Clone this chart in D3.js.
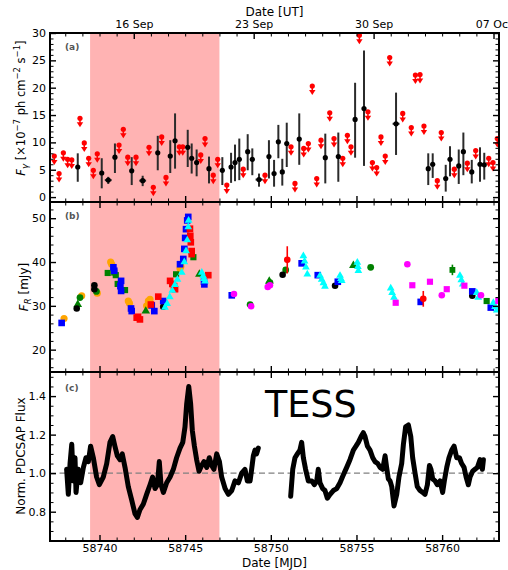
<!DOCTYPE html>
<html>
<head>
<meta charset="utf-8">
<script src="https://cdn.jsdelivr.net/npm/d3@7"></script>
<style>
  body { margin: 0; background: #fff; }
  svg { display: block; font-family: "DejaVu Sans", sans-serif; }
</style>
</head>
<body>
<div id="chart"></div>
<script>
// ---- data ----
const shadeRange = [58739.45, 58747.0];
const xMajor = [58740, 58745, 58750, 58755, 58760];
const dateTicks = [58742, 58749, 58756, 58763];
const dateLabels = ["16 Sep", "23 Sep", "30 Sep", "07 Oct"];

// (a) gamma-ray detections: [mjd, flux, low, high, xerr]
const gammaDet = [
  [58738.73, 5.5, 2.8, 8.0, 0], [58740.13, 4.4, 1.6, 7.1, 0], [58740.51, 3.1, 2.4, 3.7, 0.2],
  [58740.90, 7.3, 4.4, 9.8, 0], [58741.88, 4.8, 2.2, 7.3, 0], [58742.52, 3.0, 2.0, 3.9, 0.2],
  [58743.40, 8.1, 4.9, 11.2, 0], [58744.13, 7.5, 4.4, 10.4, 0], [58744.41, 10.3, 5.2, 15.3, 0],
  [58745.15, 9.1, 5.5, 12.3, 0], [58745.38, 7.1, 4.3, 9.8, 0], [58745.67, 6.3, 3.8, 8.7, 0],
  [58746.39, 5.2, 2.5, 7.4, 0], [58747.17, 4.9, 2.2, 7.3, 0], [58747.68, 5.5, 2.6, 8.1, 0],
  [58747.91, 6.3, 2.9, 9.6, 0], [58748.16, 6.9, 3.1, 10.7, 0], [58748.65, 8.3, 4.9, 11.5, 0],
  [58748.92, 6.9, 4.0, 8.9, 0], [58749.31, 3.2, 1.9, 4.3, 0.2], [58749.89, 7.4, 3.4, 10.4, 0],
  [58750.19, 4.3, 1.9, 6.8, 0], [58750.44, 10.1, 7.1, 13.2, 0], [58750.67, 4.6, 2.1, 7.0, 0],
  [58750.93, 9.8, 5.5, 13.6, 0], [58751.66, 10.6, 5.9, 15.3, 0], [58753.18, 7.2, 2.5, 11.6, 0],
  [58753.94, 7.4, 2.8, 11.8, 0], [58754.92, 14.2, 7.2, 20.9, 0], [58755.44, 16.2, 5.7, 26.8, 0],
  [58757.31, 13.4, 7.7, 19.1, 0.2], [58759.19, 5.2, 2.2, 8.0, 0], [58759.45, 6.0, 3.5, 8.0, 0],
  [58760.21, 3.4, 1.0, 5.9, 0], [58760.46, 6.9, 3.8, 9.3, 0], [58760.97, 5.7, 2.4, 8.7, 0],
  [58761.24, 8.3, 4.0, 11.8, 0], [58761.73, 4.6, 2.5, 6.8, 0], [58762.21, 6.0, 2.8, 9.1, 0],
  [58762.46, 5.9, 3.2, 8.1, 0]
];
// (a) gamma-ray upper limits: [mjd, flux]
const gammaUL = [
  [58737.36, 7.5], [58737.64, 4.3], [58737.89, 8.1], [58738.14, 6.9], [58738.38, 6.8],
  [58738.86, 14.4], [58739.11, 9.9], [58739.37, 7.1], [58739.64, 4.9], [58739.87, 7.9],
  [58741.14, 9.5], [58741.39, 12.4], [58741.65, 7.3], [58742.13, 7.3], [58742.89, 9.1],
  [58743.14, 1.8], [58743.63, 11.0], [58743.88, 3.6], [58744.66, 9.2], [58744.86, 9.2],
  [58745.91, 7.7], [58746.16, 10.7], [58746.64, 4.0], [58746.90, 6.9], [58747.43, 2.2],
  [58748.39, 5.1], [58749.66, 4.0], [58751.18, 9.2], [58751.41, 2.5], [58751.92, 8.9],
  [58752.19, 9.8], [58752.42, 20.3], [58752.68, 3.4], [58752.93, 10.4], [58753.44, 15.4],
  [58753.69, 10.7], [58754.20, 7.1], [58754.47, 11.3], [58754.68, 9.2], [58755.17, 29.6],
  [58755.67, 15.6], [58755.93, 6.3], [58756.18, 5.4], [58756.43, 11.0], [58756.68, 7.5],
  [58756.94, 25.5], [58757.70, 15.3], [58758.20, 12.7], [58758.44, 22.3], [58758.71, 22.4],
  [58758.94, 13.0], [58759.72, 3.0], [58759.95, 11.8], [58760.71, 5.1], [58761.47, 6.2],
  [58761.96, 8.5], [58762.72, 7.1], [58762.97, 6.3], [58763.22, 10.7]
];

// (b) optical R-band flux [mjd, mJy] per telescope
const optOrange = [
  [58737.93, 27.1], [58738.96, 32.3], [58739.87, 32.9], [58740.65, 40.0], [58740.71, 39.5],
  [58741.68, 31.1], [58741.75, 30.6], [58742.75, 30.0], [58742.85, 31.1], [58742.95, 31.5],
  [58744.70, 38.5], [58744.75, 39.0]
];
const optGreenCircle = [
  [58738.86, 31.9], [58739.82, 33.3], [58748.79, 30.3], [58749.95, 35.3], [58750.87, 38.2],
  [58755.83, 38.8]
];
const optGreenSquare = [
  [58740.48, 37.5], [58740.86, 37.6], [58740.95, 37.0], [58741.06, 35.0], [58741.49, 33.6],
  [58744.47, 37.2], [58745.48, 41.1], [58762.60, 31.1]
];
const optGreenTri = [
  [58738.73, 30.3], [58742.70, 28.8], [58745.83, 37.2], [58749.91, 35.6], [58754.82, 39.2]
];
const optGreenErr = [[58760.60, 38.2, 1.2]];
const optBlack = [
  [58738.67, 29.4], [58739.70, 34.7], [58739.70, 33.8], [58743.72, 29.8], [58750.69, 37.1],
  [58753.75, 34.6], [58761.76, 32.3]
];
const optBlue = [
  [58737.79, 26.1], [58740.81, 38.8], [58740.86, 38.0], [58741.22, 34.5], [58741.26, 35.7],
  [58741.26, 33.4], [58741.84, 29.4], [58741.88, 28.8], [58743.05, 30.1], [58743.20, 28.8],
  [58743.72, 31.1], [58744.70, 39.5], [58744.89, 40.7], [58744.95, 43.0], [58745.00, 45.5],
  [58745.05, 47.5], [58745.12, 49.5], [58745.18, 50.3], [58746.10, 35.5], [58746.12, 34.9],
  [58747.72, 32.4], [58751.80, 39.7], [58752.74, 37.0], [58753.91, 35.5], [58758.75, 30.9],
  [58761.76, 33.3], [58762.84, 29.6]
];
const optRed = [
  [58742.17, 27.3], [58742.25, 27.5], [58742.36, 26.9], [58743.00, 30.3], [58743.43, 32.1],
  [58744.12, 35.7], [58744.25, 35.0], [58744.35, 34.5], [58744.41, 33.8], [58745.28, 47.6],
  [58745.30, 46.0], [58745.33, 44.5], [58745.38, 42.5], [58745.38, 41.8], [58746.35, 37.0]
];
const optRedErr = [[58750.96, 40.5, 3.1], [58758.90, 31.6, 1.8]];
const optCyan = [
  [58743.82, 29.6], [58743.95, 30.5], [58744.10, 32.0], [58744.25, 33.5], [58744.40, 34.8],
  [58744.55, 36.0], [58744.80, 37.6], [58744.95, 40.0], [58745.05, 42.5], [58745.12, 45.0],
  [58745.18, 48.0], [58745.20, 49.5], [58745.97, 37.6], [58746.05, 36.8], [58746.10, 36.2],
  [58746.16, 35.6], [58751.90, 41.4], [58751.97, 40.2], [58752.05, 38.8], [58752.13, 37.2],
  [58752.87, 36.9], [58752.97, 36.0], [58753.07, 35.2], [58753.16, 34.4], [58754.04, 36.9],
  [58754.09, 36.2], [58754.14, 35.7], [58755.05, 39.9], [58755.08, 38.9], [58755.11, 38.0],
  [58757.00, 34.0], [58757.08, 33.0], [58757.19, 31.9], [58761.04, 36.9], [58761.12, 35.9],
  [58761.20, 34.9], [58762.02, 33.0], [58762.11, 31.9], [58762.99, 30.7], [58763.09, 29.8],
  [58763.19, 29.0]
];
const optMagentaCircle = [
  [58747.85, 32.7], [58748.85, 29.9], [58749.82, 34.3], [58749.95, 34.7], [58757.97, 39.5],
  [58759.98, 32.4], [58762.27, 32.4]
];
const optMagentaSquare = [
  [58757.29, 30.7], [58758.26, 34.7], [58759.29, 35.5], [58760.27, 33.8], [58761.30, 34.6],
  [58763.28, 31.1]
];

// (c) TESS normalised flux [mjd, flux], two continuous segments
const tessSeg1 = [
  [58738.08, 1.02], [58738.18, 0.89], [58738.28, 1.05], [58738.38, 1.15], [58738.47, 0.96],
  [58738.57, 1.08], [58738.63, 0.90], [58738.76, 1.02], [58738.90, 0.95], [58739.06, 1.03],
  [58739.21, 1.08], [58739.35, 1.06], [58739.48, 1.14], [58739.64, 1.08], [58739.83, 0.98],
  [58739.99, 0.94], [58740.22, 0.98], [58740.42, 1.05], [58740.61, 1.16], [58740.77, 1.19],
  [58740.90, 1.14], [58741.04, 1.09], [58741.20, 1.07], [58741.33, 1.10], [58741.49, 1.03],
  [58741.68, 0.93], [58741.88, 0.86], [58742.07, 0.79], [58742.21, 0.77], [58742.36, 0.81],
  [58742.56, 0.84], [58742.75, 0.89], [58742.95, 0.94], [58743.10, 0.98], [58743.24, 0.92],
  [58743.38, 0.94], [58743.49, 1.06], [58743.59, 0.94], [58743.73, 0.90], [58743.92, 0.95],
  [58744.12, 0.98], [58744.31, 1.02], [58744.50, 1.08], [58744.70, 1.13], [58744.86, 1.16],
  [58744.99, 1.24], [58745.09, 1.36], [58745.21, 1.45], [58745.32, 1.36], [58745.42, 1.22],
  [58745.54, 1.14], [58745.67, 1.07], [58745.81, 1.01], [58745.96, 1.04], [58746.10, 1.06],
  [58746.26, 1.03], [58746.41, 1.08], [58746.55, 1.04], [58746.68, 1.02], [58746.84, 1.10],
  [58747.00, 1.06], [58747.13, 0.98], [58747.33, 0.92], [58747.52, 0.89], [58747.72, 0.91],
  [58747.91, 0.96], [58748.11, 0.95], [58748.30, 1.00], [58748.49, 1.02], [58748.63, 0.96],
  [58748.79, 0.96], [58748.88, 1.02], [58748.98, 1.09], [58749.08, 1.12], [58749.17, 1.10],
  [58749.27, 1.13]
];
const tessSeg2 = [
  [58751.16, 0.88], [58751.28, 1.02], [58751.41, 1.08], [58751.55, 1.10], [58751.70, 1.12],
  [58751.80, 1.16], [58751.90, 1.08], [58752.03, 1.02], [58752.19, 0.96], [58752.39, 0.96],
  [58752.54, 0.94], [58752.68, 0.96], [58752.77, 1.02], [58752.87, 0.95], [58753.03, 0.92],
  [58753.16, 0.91], [58753.30, 0.87], [58753.46, 0.89], [58753.65, 0.91], [58753.85, 0.92],
  [58754.04, 0.95], [58754.23, 0.99], [58754.43, 1.03], [58754.62, 1.07], [58754.82, 1.12],
  [58754.97, 1.14], [58755.11, 1.16], [58755.27, 1.19], [58755.40, 1.21], [58755.50, 1.19],
  [58755.64, 1.14], [58755.79, 1.12], [58755.95, 1.08], [58756.08, 1.06], [58756.24, 1.05],
  [58756.38, 1.03], [58756.53, 1.02], [58756.67, 1.09], [58756.76, 1.03], [58756.86, 0.97],
  [58756.96, 0.96], [58757.06, 0.93], [58757.19, 0.83], [58757.35, 0.89], [58757.48, 0.98],
  [58757.64, 1.05], [58757.74, 1.15], [58757.87, 1.24], [58758.03, 1.25], [58758.17, 1.19],
  [58758.28, 1.08], [58758.42, 1.00], [58758.55, 0.93], [58758.71, 0.91], [58758.87, 0.90],
  [58759.00, 0.89], [58759.14, 0.94], [58759.26, 1.04], [58759.35, 1.02], [58759.45, 0.97],
  [58759.59, 0.96], [58759.72, 0.94], [58759.88, 0.96], [58760.03, 0.90], [58760.13, 0.96],
  [58760.27, 1.03], [58760.40, 1.08], [58760.56, 1.12], [58760.70, 1.14], [58760.85, 1.08],
  [58761.01, 1.08], [58761.14, 1.05], [58761.28, 1.03], [58761.40, 0.98], [58761.53, 0.94],
  [58761.63, 0.98], [58761.78, 1.01], [58761.92, 1.02], [58762.06, 1.03], [58762.21, 1.07],
  [58762.35, 1.02], [58762.41, 1.07]
];

// ---- layout ----
const W = 508, H = 570;
const L = 50, R = 499;
const pA = {top: 33, bot: 202}, pB = {top: 202, bot: 372}, pC = {top: 372, bot: 541};

const svg = d3.select("#chart").append("svg")
    .attr("width", W).attr("height", H);

const x = d3.scaleLinear().domain([58737.11, 58763.32]).range([L, R]);
const ya = d3.scaleLinear().domain([-0.9, 30]).range([pA.bot, pA.top]);
const yb = d3.scaleLinear().domain([14.9, 53.7]).range([pB.bot, pB.top]);
const yc = d3.scaleLinear().domain([0.648, 1.525]).range([pC.bot, pC.top]);

// clip paths per panel
const defs = svg.append("defs");
[["clipA", pA], ["clipB", pB], ["clipC", pC]].forEach(function (c) {
    defs.append("clipPath").attr("id", c[0]).append("rect")
        .attr("x", L).attr("y", c[1].top).attr("width", R - L).attr("height", c[1].bot - c[1].top);
});

// shaded interval across all panels
svg.append("rect")
    .attr("x", x(shadeRange[0])).attr("y", pA.top)
    .attr("width", x(shadeRange[1]) - x(shadeRange[0]))
    .attr("height", pC.bot - pA.top)
    .attr("fill", "#ffb3b3");

// ---- panel (a) ----
const ga = svg.append("g").attr("clip-path", "url(#clipA)");
ga.selectAll(".ul").data(gammaUL).enter().append("g")
    .attr("transform", function (d) { return "translate(" + x(d[0]) + "," + ya(d[1]) + ")"; })
    .each(function () {
        const g = d3.select(this);
        g.append("line").attr("x1", 0).attr("x2", 0).attr("y1", 0).attr("y2", 5)
            .attr("stroke", "red").attr("stroke-width", 1.5);
        g.append("path").attr("d", "M-3.2,4 L3.2,4 L0,9 Z").attr("fill", "red");
        g.append("circle").attr("r", 2.6).attr("fill", "red");
    });

ga.selectAll(".ev").data(gammaDet).enter().append("line")
    .attr("x1", function (d) { return x(d[0]); })
    .attr("x2", function (d) { return x(d[0]); })
    .attr("y1", function (d) { return ya(d[2]); })
    .attr("y2", function (d) { return ya(d[3]); })
    .attr("stroke", "#2b2b2b").attr("stroke-width", 2);
ga.selectAll(".eh").data(gammaDet.filter(function (d) { return d[4] > 0; })).enter().append("line")
    .attr("x1", function (d) { return x(d[0] - d[4]); })
    .attr("x2", function (d) { return x(d[0] + d[4]); })
    .attr("y1", function (d) { return ya(d[1]); })
    .attr("y2", function (d) { return ya(d[1]); })
    .attr("stroke", "#2b2b2b").attr("stroke-width", 2);
ga.selectAll(".dt").data(gammaDet).enter().append("circle")
    .attr("cx", function (d) { return x(d[0]); })
    .attr("cy", function (d) { return ya(d[1]); })
    .attr("r", 2.6).attr("fill", "#000");

// ---- panel (b) ----
const gb = svg.append("g").attr("clip-path", "url(#clipB)");
function errSeries(data, color) {
    gb.selectAll(null).data(data).enter().append("line")
        .attr("x1", function (d) { return x(d[0]); })
        .attr("x2", function (d) { return x(d[0]); })
        .attr("y1", function (d) { return yb(d[1] - d[2]); })
        .attr("y2", function (d) { return yb(d[1] + d[2]); })
        .attr("stroke", color).attr("stroke-width", 1.6);
}
function symSeries(data, color, type, size) {
    gb.selectAll(null).data(data).enter().append("path")
        .attr("transform", function (d) { return "translate(" + x(d[0]) + "," + yb(d[1]) + ")"; })
        .attr("d", d3.symbol().type(type).size(size))
        .attr("fill", color);
}
symSeries(optOrange, "#ffa500", d3.symbolCircle, 40);
symSeries(optGreenCircle, "#008000", d3.symbolCircle, 36);
symSeries(optGreenSquare, "#008000", d3.symbolSquare, 38);
symSeries(optGreenTri, "#008000", d3.symbolTriangle, 32);
errSeries(optGreenErr, "#008000");
symSeries(optGreenErr, "#008000", d3.symbolSquare, 34);
symSeries(optBlack, "#000", d3.symbolCircle, 34);
symSeries(optBlue, "#0000ff", d3.symbolSquare, 44);
symSeries(optRed, "#ff0000", d3.symbolSquare, 44);
errSeries(optRedErr, "#ff0000");
symSeries(optRedErr, "#ff0000", d3.symbolCircle, 34);
symSeries(optCyan, "#00ffff", d3.symbolTriangle, 26);
symSeries(optMagentaCircle, "#ff00ff", d3.symbolCircle, 34);
symSeries(optMagentaSquare, "#ff00ff", d3.symbolSquare, 38);

// ---- panel (c) ----
const gc = svg.append("g").attr("clip-path", "url(#clipC)");
gc.append("line")
    .attr("x1", L).attr("x2", R).attr("y1", yc(1.0)).attr("y2", yc(1.0))
    .attr("stroke", "#808080").attr("stroke-width", 1.3).attr("stroke-dasharray", "6,3.5");
const line = d3.line().x(function (d) { return x(d[0]); }).y(function (d) { return yc(d[1]); });
[tessSeg1, tessSeg2].forEach(function (seg) {
    gc.append("path").datum(seg).attr("d", line)
        .attr("fill", "none").attr("stroke", "#000")
        .attr("stroke-width", 5).attr("stroke-linejoin", "round").attr("stroke-linecap", "round");
});
svg.append("text").attr("x", 265).attr("y", 417)
    .attr("font-size", 36.5).attr("fill", "#000").text("TESS");

// ---- frames and ticks ----
function addAxis(gen, tx, ty, major) {
    const g = svg.append("g").attr("transform", "translate(" + tx + "," + ty + ")").call(gen);
    g.select(".domain").remove();
    g.attr("font-size", 11).attr("font-family", "DejaVu Sans, sans-serif");
    g.selectAll(".tick line").attr("stroke", "#000").attr("stroke-width", major ? 1.4 : 1);
    g.selectAll(".tick text").attr("fill", "#000");
    return g;
}
const xMinor = d3.range(58738, 58764).filter(function (v) { return xMajor.indexOf(v) < 0; });
const dateMinor = d3.range(58738, 58764).filter(function (v) { return dateTicks.indexOf(v) < 0; });

function panelAxes(p, y, yMaj, yMin, yFmt, bottomLabels, topDates) {
    svg.append("rect").attr("x", L).attr("y", p.top).attr("width", R - L).attr("height", p.bot - p.top)
        .attr("fill", "none").attr("stroke", "#000").attr("stroke-width", 2);
    addAxis(d3.axisBottom(x).tickValues(xMajor).tickSize(-6).tickPadding(3)
        .tickFormat(bottomLabels ? d3.format("d") : ""), 0, p.bot, true);
    addAxis(d3.axisBottom(x).tickValues(xMinor).tickSize(-3.5).tickFormat(""), 0, p.bot, false);
    if (topDates) {
        addAxis(d3.axisTop(x).tickValues(dateTicks).tickSize(-6).tickPadding(5)
            .tickFormat(function (d, i) { return dateLabels[i]; }), 0, p.top, true);
        addAxis(d3.axisTop(x).tickValues(dateMinor).tickSize(-3.5).tickFormat(""), 0, p.top, false);
    } else {
        addAxis(d3.axisTop(x).tickValues(xMajor).tickSize(-6).tickFormat(""), 0, p.top, true);
        addAxis(d3.axisTop(x).tickValues(xMinor).tickSize(-3.5).tickFormat(""), 0, p.top, false);
    }
    addAxis(d3.axisLeft(y).tickValues(yMaj).tickSize(-6).tickPadding(4).tickFormat(yFmt), L, 0, true);
    addAxis(d3.axisLeft(y).tickValues(yMin).tickSize(-3.5).tickFormat(""), L, 0, false);
    addAxis(d3.axisRight(y).tickValues(yMaj).tickSize(-6).tickFormat(""), R, 0, true);
    addAxis(d3.axisRight(y).tickValues(yMin).tickSize(-3.5).tickFormat(""), R, 0, false);
}
panelAxes(pA, ya, [0, 5, 10, 15, 20, 25, 30],
    d3.range(1, 30).filter(function (v) { return v % 5 !== 0; }), d3.format("d"), false, true);
panelAxes(pB, yb, [20, 30, 40, 50],
    d3.range(16, 54, 2).filter(function (v) { return v % 10 !== 0; }), d3.format("d"), false, false);
panelAxes(pC, yc, [0.8, 1.0, 1.2, 1.4],
    d3.range(13, 31).filter(function (k) { return k % 4 !== 0; }).map(function (k) { return k * 0.05; }),
    d3.format(".1f"), true, false);

// panel tags
[["(a)", 50], ["(b)", 219], ["(c)", 391]].forEach(function (t) {
    svg.append("text").attr("x", 65).attr("y", t[1])
        .attr("font-size", 9).attr("font-weight", "bold").attr("fill", "#555").text(t[0]);
});

// axis titles
svg.append("text").attr("x", (L + R) / 2).attr("y", 15.5).attr("text-anchor", "middle")
    .attr("font-size", 12).text("Date [UT]");
svg.append("text").attr("x", (L + R) / 2).attr("y", 567).attr("text-anchor", "middle")
    .attr("font-size", 12).text("Date [MJD]");

const labA = svg.append("text").attr("transform", "translate(25,108) rotate(-90)")
    .attr("text-anchor", "middle").attr("font-size", 11.5);
labA.append("tspan").attr("font-style", "italic").text("F");
labA.append("tspan").attr("font-style", "italic").attr("font-size", 8.5).attr("dy", 3).text("γ");
labA.append("tspan").attr("dy", -3).text(" [×10");
labA.append("tspan").attr("font-size", 8.5).attr("dy", -5).text("−7");
labA.append("tspan").attr("dy", 5).text(" ph cm");
labA.append("tspan").attr("font-size", 8.5).attr("dy", -5).text("−2");
labA.append("tspan").attr("dy", 5).text(" s");
labA.append("tspan").attr("font-size", 8.5).attr("dy", -5).text("−1");
labA.append("tspan").attr("dy", 5).text("]");

const labB = svg.append("text").attr("transform", "translate(28,287) rotate(-90)")
    .attr("text-anchor", "middle").attr("font-size", 12);
labB.append("tspan").attr("font-style", "italic").text("F");
labB.append("tspan").attr("font-style", "italic").attr("font-size", 8.5).attr("dy", 3).text("R");
labB.append("tspan").attr("dy", -3).text(" [mJy]");

svg.append("text").attr("transform", "translate(25,456) rotate(-90)")
    .attr("text-anchor", "middle").attr("font-size", 12).text("Norm. PDCSAP Flux");
</script>
</body>
</html>
